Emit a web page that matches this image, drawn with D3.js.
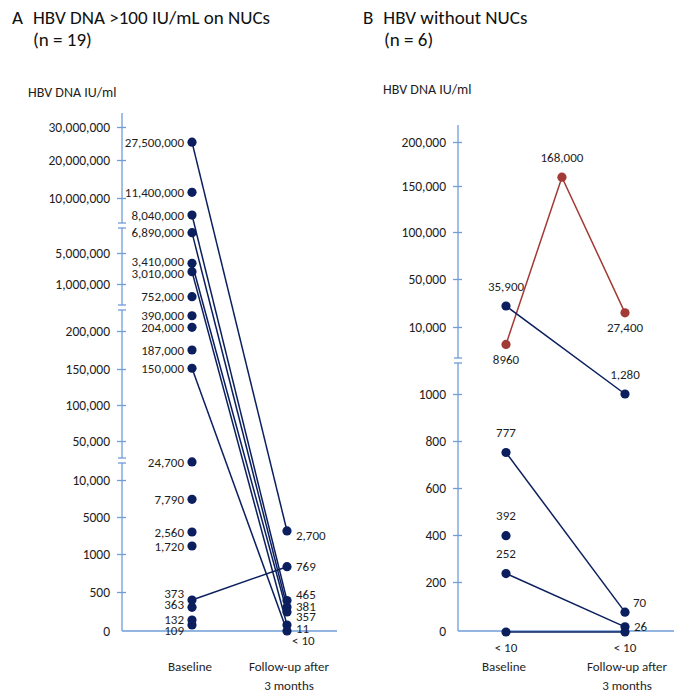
<!DOCTYPE html>
<html>
<head>
<meta charset="utf-8">
<script src="https://cdn.jsdelivr.net/npm/d3@7"></script>
<style>
  body { margin: 0; background: #fff; }
  svg { display: block; font-family: Carlito, Lato, sans-serif; }
</style>
</head>
<body>
<div id="chart"></div>
<script>
"use strict";

// ---- Panel A : HBV DNA >100 IU/mL on NUCs (n = 19) ----
const aTicks = [30000000, 20000000, 10000000, 5000000, 1000000, 200000, 150000, 100000, 50000, 10000, 5000, 1000, 500, 0];
const aTickLabels = ["30,000,000", "20,000,000", "10,000,000", "5,000,000", "1,000,000", "200,000", "150,000", "100,000", "50,000", "10,000", "5000", "1000", "500", "0"];
const aBreaksAfter = [2, 4, 8]; // axis broken after these tick indices

// plotted heights as read against the axis, plus the printed labels
const aBaseValues = [25400000, 11500000, 8450000, 6850000, 3670000, 2590000, 784000, 460000, 263000, 175000, 151000, 28500, 7390, 3380, 1865, 397, 304, 141, 77];
const aBaseLabels = ["27,500,000", "11,400,000", "8,040,000", "6,890,000", "3,410,000", "3,010,000", "752,000", "390,000", "204,000", "187,000", "150,000", "24,700", "7,790", "2,560", "1,720", "373", "363", "132", "109"];
const aFollowValues = [3490, 833, 391, 308, 244, 77, 0];
const aFollowLabels = ["2,700", "769", "465", "381", "357", "11", "< 10"];
const aFollowSide = ["right", "right", "right", "right", "right", "right", "belowright"];
// [baseline index, follow-up index]
const aLinks = [[0, 0], [15, 1], [2, 2], [3, 3], [4, 4], [5, 5], [10, 6]];

// ---- Panel B : HBV without NUCs (n = 6) ----
const bTicks = [200000, 150000, 100000, 50000, 10000, 1000, 800, 600, 400, 200, 0];
const bTickLabels = ["200,000", "150,000", "100,000", "50,000", "10,000", "1000", "800", "600", "400", "200", "0"];
const bBreaksAfter = [4];

const bTimes = [0, 0.47, 1];
const bBaseValues = [7660, 27500, 751, 397, 236, -4];
const bBaseLabels = ["8960", "35,900", "777", "392", "252", "< 10"];
const bBaseSide = ["below", "above", "above", "above", "above", "below"];
const bMidValues = [160000, null, null, null, null, null];
const bMidLabels = ["168,000", "", "", "", "", ""];
const bFollowValues = [21800, 1000, 77, null, 17, -4];
const bFollowLabels = ["27,400", "1,280", "70", "", "26", "< 10"];
const bFollowSide = ["below", "above", "aboveright", "", "right", "below"];
const bGroup = ["rise", "fall", "fall", "fall", "fall", "fall"];

const categories = ["Baseline", ["Follow-up after", "3 months"]];

// ---- layout ----
const W = 674, H = 693;
const navy = "#0b1f5e", red = "#a23a35", axisBlue = "#6f9dd8", ink = "#1e1e1e";
// small vertical nudges so the crowded labels don't collide
const aBaseNudge = { 4: -2, 5: 2, 15: -7, 16: -3, 17: -1, 18: 5 };
const aFollowNudge = { 0: 4, 2: -6, 3: -1, 4: 4, 5: 3 };

const svg = d3.select("#chart").append("svg").attr("width", W).attr("height", H);

const yA = d3.scaleLinear().domain(aTicks)
  .range([127, 160, 198, 253, 284, 331, 369, 405, 441, 480, 517, 554, 592, 631]);
const xA = d3.scaleLinear().domain([0, 1]).range([192, 287]);

const yB = d3.scaleLinear().domain(bTicks)
  .range([142, 186, 232, 279, 327, 394, 441, 488, 535, 582, 631]);
const xB = d3.scaleLinear().domain([0, 1]).range([506, 625]);

function drawAxis(axisX, y, ticks, labels, breaks, top, right) {
  const g = svg.append("g").attr("transform", `translate(${axisX},0)`);
  g.call(d3.axisLeft(y).tickValues(ticks).tickFormat((d, i) => labels[i]).tickSize(5).tickPadding(7));
  g.attr("font-family", null).attr("font-size", 13.5);
  g.select(".domain").remove();
  g.selectAll(".tick text").attr("fill", ink);
  g.selectAll(".tick line").attr("x1", 4).attr("stroke", axisBlue).attr("stroke-width", 1.3)
    .filter(d => d === 0).remove();

  // broken vertical axis
  let start = top;
  const segs = [];
  breaks.forEach(i => {
    const mid = (y(ticks[i]) + y(ticks[i + 1])) / 2;
    segs.push([start, mid - 2.5]);
    start = mid + 2.5;
  });
  segs.push([start, y(0)]);
  segs.forEach(s => {
    g.append("line").attr("x1", 0).attr("x2", 0).attr("y1", s[0]).attr("y2", s[1])
      .attr("stroke", axisBlue).attr("stroke-width", 1.3);
  });
  segs.forEach((s, i) => {
    if (i > 0) g.append("line").attr("x1", -4).attr("x2", 4).attr("y1", s[0]).attr("y2", s[0])
      .attr("stroke", axisBlue).attr("stroke-width", 1.3);
    if (i < segs.length - 1) g.append("line").attr("x1", -4).attr("x2", 4).attr("y1", s[1]).attr("y2", s[1])
      .attr("stroke", axisBlue).attr("stroke-width", 1.3);
  });
  // horizontal baseline
  g.append("line").attr("x1", 0).attr("x2", right - axisX).attr("y1", y(0)).attr("y2", y(0))
    .attr("stroke", axisBlue).attr("stroke-width", 1.3);
}

function label(x, y, text, side, nudge) {
  y += nudge || 0;
  const t = svg.append("text").attr("font-size", 13).attr("fill", ink).text(text);
  if (side === "left") t.attr("x", x - 8).attr("y", y).attr("dy", "0.35em").attr("text-anchor", "end");
  else if (side === "right") t.attr("x", x + 9).attr("y", y).attr("dy", "0.35em");
  else if (side === "above") t.attr("x", x).attr("y", y - 20).attr("dy", "0.35em").attr("text-anchor", "middle");
  else if (side === "below") t.attr("x", x).attr("y", y + 15).attr("dy", "0.35em").attr("text-anchor", "middle");
  else if (side === "aboveright") t.attr("x", x + 8).attr("y", y - 10).attr("dy", "0.35em");
  else if (side === "belowright") t.attr("x", x + 5).attr("y", y + 9).attr("dy", "0.35em");
}

function categoryLabels(x) {
  categories.forEach((c, i) => {
    const lines = Array.isArray(c) ? c : [c];
    lines.forEach((s, j) => {
      svg.append("text").attr("x", x(i) + (i ? 2 : -2)).attr("y", 671 + j * 19)
        .attr("text-anchor", "middle").attr("font-size", 13).attr("fill", ink).text(s);
    });
  });
}

// ---- titles ----
function title(x, y, letter, text, n) {
  const t = svg.append("text").attr("x", x).attr("y", y).attr("font-size", 19).attr("fill", "#111");
  t.append("tspan").text(letter);
  t.append("tspan").attr("dx", 10).text(text);
  svg.append("text").attr("x", x + 21).attr("y", y + 22).attr("font-size", 19).attr("fill", "#111").text(n);
}
title(12, 24, "A", "HBV DNA >100 IU/mL on NUCs", "(n = 19)");
title(363, 24, "B", "HBV without NUCs", "(n = 6)");

svg.append("text").attr("x", 28).attr("y", 97).attr("font-size", 14).attr("fill", ink).text("HBV DNA IU/ml");
svg.append("text").attr("x", 383).attr("y", 94).attr("font-size", 14).attr("fill", ink).text("HBV DNA IU/ml");

// ---- Panel A ----
drawAxis(122, yA, aTicks, aTickLabels, aBreaksAfter, 113, 337);

svg.append("g").selectAll("line").data(aLinks).enter().append("line")
  .attr("x1", xA(0)).attr("y1", d => yA(aBaseValues[d[0]]))
  .attr("x2", xA(1)).attr("y2", d => yA(aFollowValues[d[1]]))
  .attr("stroke", navy).attr("stroke-width", 1.5);

svg.append("g").selectAll("circle").data(aBaseValues).enter().append("circle")
  .attr("cx", xA(0)).attr("cy", d => yA(d)).attr("r", 4.6).attr("fill", navy);
svg.append("g").selectAll("circle").data(aFollowValues).enter().append("circle")
  .attr("cx", xA(1)).attr("cy", d => yA(d)).attr("r", 4.6).attr("fill", navy);

aBaseValues.forEach((v, i) => label(xA(0), yA(v), aBaseLabels[i], "left", aBaseNudge[i]));
aFollowValues.forEach((v, i) => label(xA(1), yA(v), aFollowLabels[i], aFollowSide[i], aFollowNudge[i]));
categoryLabels(xA);

// ---- Panel B ----
drawAxis(458, yB, bTicks, bTickLabels, bBreaksAfter, 125, 674);

bBaseValues.forEach((v, i) => {
  const col = bGroup[i] === "rise" ? red : navy;
  const pts = [[bTimes[0], v], [bTimes[1], bMidValues[i]], [bTimes[2], bFollowValues[i]]]
    .filter(p => p[1] !== null);
  if (pts.length > 1) {
    svg.append("path").datum(pts)
      .attr("d", d3.line().x(p => xB(p[0])).y(p => yB(p[1])))
      .attr("fill", "none").attr("stroke", col).attr("stroke-width", 1.5);
  }
  svg.append("g").selectAll("circle").data(pts).enter().append("circle")
    .attr("cx", p => xB(p[0])).attr("cy", p => yB(p[1])).attr("r", 4.6).attr("fill", col);
});

bBaseValues.forEach((v, i) => {
  label(xB(bTimes[0]), yB(v), bBaseLabels[i], bBaseSide[i]);
  if (bMidValues[i] !== null) label(xB(bTimes[1]), yB(bMidValues[i]), bMidLabels[i], "above");
  if (bFollowValues[i] !== null) label(xB(bTimes[2]), yB(bFollowValues[i]), bFollowLabels[i], bFollowSide[i]);
});
categoryLabels(xB);
</script>
</body>
</html>
